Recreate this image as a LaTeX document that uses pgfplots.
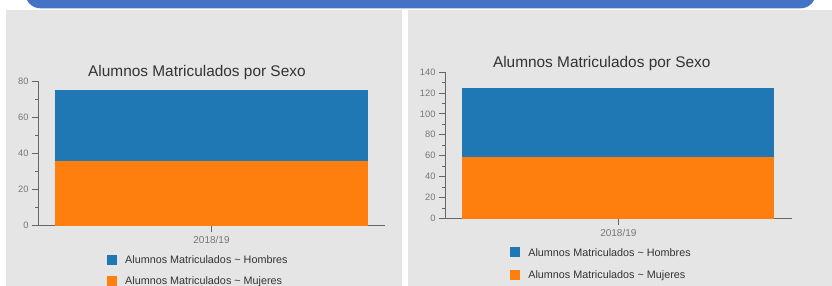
\documentclass[border=0pt]{standalone}
\usepackage{fontspec}
\setmainfont{Liberation Sans}
\usepackage{pgfplots}
\pgfplotsset{compat=1.18}
\definecolor{cblue}{HTML}{1F77B4}
\definecolor{corange}{HTML}{FF7F0E}
\definecolor{bgray}{HTML}{E5E5E5}
\definecolor{banner}{HTML}{4472C4}
\definecolor{axisgray}{HTML}{666666}
\definecolor{ticktext}{HTML}{777777}
\definecolor{titletext}{HTML}{333333}
\pgfplotsset{panel/.style={
  scale only axis, ybar stacked, ymin=0,
  xmin=-0.5, xmax=0.5, enlargelimits=false,
  xtick={0}, xticklabels={2018/19},
  axis x line*=bottom, axis y line*=left,
  axis line style={draw=axisgray, line width=0.8bp},
  every tick/.style={draw=axisgray, line width=0.8bp},
  major tick length=6bp, minor tick length=3bp,
  tick align=outside, minor y tick num=1,
  bar width=0.9,
  /pgf/number format/assume math mode=true,
  x tick label style={font=\fontsize{10bp}{12bp}\selectfont, text=ticktext, yshift=-1bp},
  y tick label style={font=\fontsize{9.3bp}{11bp}\selectfont, text=ticktext},
  title style={font=\fontsize{15.4bp}{18bp}\selectfont, text=titletext, anchor=center, yshift=-7.5bp},
  reverse legend, legend cell align=left,
  legend image code/.code={\fill[##1] (0bp,-5bp) rectangle (10bp,5bp);},
  legend style={draw=none, fill=none, inner sep=0pt, anchor=north west,
    font=\fontsize{10.8bp}{13bp}\selectfont, text=titletext,
    nodes={inner sep=0pt, text height=7.7bp, text depth=0pt},
    /tikz/every odd column/.append style={column sep=8bp}},
}}
\begin{document}
\begin{tikzpicture}
\useasboundingbox (0bp,0bp) rectangle (832bp,286bp);
\fill[white] (0bp,0bp) rectangle (832bp,286bp);
\fill[bgray] (6bp,0bp) rectangle (402bp,276bp);
\fill[bgray] (408bp,0bp) rectangle (832bp,276bp);
\begin{scope}
\clip (0bp,0bp) rectangle (832bp,286bp);
\fill[banner, rounded corners=15bp] (25.4bp,277.7bp) rectangle (815.6bp,310bp);
\end{scope}
% Left chart
\begin{axis}[panel, at={(38bp,60.3bp)}, anchor=south west,
  width=347bp, height=144.7bp, ymax=80, ytick={0,20,...,80},
  title={Alumnos Matriculados por Sexo},
  title style={at={(0.458,1.072)}},
  legend style={at={(0.1988,-0.2004)}, row sep=11bp}]
\addplot[fill=corange, draw=none] coordinates {(0,36)};
\addplot[fill=cblue, draw=none] coordinates {(0,39)};
\legend{Alumnos Matriculados \textasciitilde{} Mujeres, Alumnos Matriculados \textasciitilde{} Hombres}
\end{axis}
% Right chart
\begin{axis}[panel, at={(445bp,67.5bp)}, anchor=south west,
  width=346.7bp, height=146.5bp, ymax=140, ytick={0,20,...,140},
  title={Alumnos Matriculados por Sexo},
  title style={at={(0.452,1.070)}},
  legend style={at={(0.188,-0.1945)}, row sep=12.7bp}]
\addplot[fill=corange, draw=none] coordinates {(0,59)};
\addplot[fill=cblue, draw=none] coordinates {(0,66)};
\legend{Alumnos Matriculados \textasciitilde{} Mujeres, Alumnos Matriculados \textasciitilde{} Hombres}
\end{axis}
\end{tikzpicture}
\end{document}
